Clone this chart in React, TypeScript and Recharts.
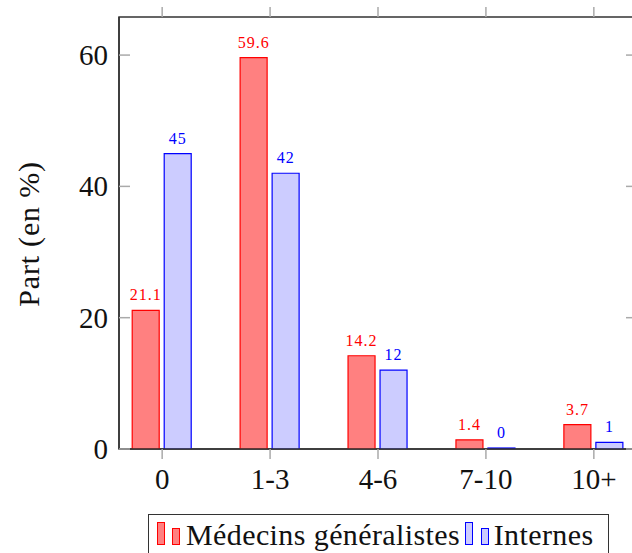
import React from 'react';
import { BarChart, Bar, XAxis, YAxis, LabelList, ReferenceArea } from 'recharts';

const CATEGORIES = ['0', '1-3', '4-6', '7-10', '10+'];
const MEDECINS = [21.1, 59.6, 14.2, 1.4, 3.7];
const INTERNES = [45, 42, 12, 0, 1];
const Y_TICKS = [0, 20, 40, 60];
const X_TICKS = [0, 1, 2, 3, 4];

const FONT = 'Liberation Serif, DejaVu Serif, serif';
const W = 680;
const H = 553;
const MARGIN = { top: 17, right: 43, left: 0, bottom: 64 };
const PLOT_TOP = MARGIN.top;
const PLOT_RIGHT = W - MARGIN.right;
const TICK_COLOR = '#aaaaaa';
const FRAME = '#333333';

const data = CATEGORIES.map((c, i) => ({ x: i, name: c, med: MEDECINS[i], int: INTERNES[i] }));

// bottom labels + outward ticks on top and bottom edges
const XTick = (props: any) => {
  const { x, y, payload } = props;
  const axisY = y - 20;
  return (
    <g>
      <line x1={x} x2={x} y1={axisY} y2={axisY + 10} stroke={TICK_COLOR} strokeWidth={1.5} />
      <line x1={x} x2={x} y1={PLOT_TOP} y2={PLOT_TOP - 10} stroke={TICK_COLOR} strokeWidth={1.5} />
      <text x={x} y={axisY + 40} textAnchor="middle" fontSize={29} fontFamily={FONT} fill="#111">
        {CATEGORIES[payload.value]}
      </text>
    </g>
  );
};

// left labels + inward ticks on left and right edges
const YTick = (props: any) => {
  const { x, y, payload } = props;
  const axisX = x + 11;
  return (
    <g>
      <line x1={axisX} x2={axisX + 11} y1={y} y2={y} stroke={TICK_COLOR} strokeWidth={1.5} />
      <line x1={PLOT_RIGHT - 11} x2={PLOT_RIGHT} y1={y} y2={y} stroke={TICK_COLOR} strokeWidth={1.5} />
      <text x={x} y={y + 10} textAnchor="end" fontSize={29} fontFamily={FONT} fill="#111">
        {payload.value}
      </text>
    </g>
  );
};

const YLabel = (props: any) => {
  const vb = props.viewBox || {};
  const cy = vb.y + vb.height / 2 + 1;
  return (
    <text
      x={28}
      y={cy}
      transform={`rotate(-90, 28, ${cy})`}
      textAnchor="middle"
      dominantBaseline="central"
      fontSize={30}
      letterSpacing={0.8}
      fontFamily={FONT}
      fill="#111"
    >
      Part (en %)
    </text>
  );
};

const Swatch = ({ fill, stroke, h, ml }: { fill: string; stroke: string; h: number; ml: number }) => (
  <span
    style={{
      display: 'inline-block',
      width: 8,
      height: h,
      background: fill,
      border: `1.5px solid ${stroke}`,
      boxSizing: 'border-box',
      marginLeft: ml,
      marginBottom: 1,
    }}
  />
);

export default function App() {
  return (
    <div style={{ position: 'fixed', left: 0, top: 0, width: 632, height: 553, overflow: 'hidden', background: '#fff' }}>
      <BarChart width={W} height={H} data={data} margin={MARGIN} barGap={5}>
        <XAxis
          dataKey="x"
          type="number"
          domain={[-0.4, 4.4]}
          ticks={X_TICKS}
          allowDataOverflow
          height={40}
          tickSize={10}
          tickMargin={10}
          tickLine={false}
          axisLine={{ stroke: FRAME, strokeWidth: 1.5 }}
          tick={<XTick />}
        />
        <YAxis
          type="number"
          domain={[0, 65.8]}
          ticks={Y_TICKS}
          allowDataOverflow
          width={119}
          tickSize={0}
          tickMargin={11}
          tickLine={false}
          axisLine={{ stroke: FRAME, strokeWidth: 1.5 }}
          tick={<YTick />}
          label={<YLabel />}
        />
        <ReferenceArea
          x1={-0.4}
          x2={4.4}
          y1={0}
          y2={65.8}
          fill="none"
          stroke={FRAME}
          strokeWidth={1.5}
          ifOverflow="visible"
        />
        <Bar dataKey="med" barSize={27} fill="#ff8080" stroke="#ff0000" strokeWidth={1.2} isAnimationActive={false}>
          <LabelList dataKey="med" position="top" offset={10} fill="#ff0000" fontSize={16} letterSpacing={1} fontFamily={FONT} />
        </Bar>
        <Bar dataKey="int" barSize={27} fill="#ccccff" stroke="#0000ff" strokeWidth={1.2} minPointSize={1} isAnimationActive={false}>
          <LabelList dataKey="int" position="top" offset={10} fill="#0000ff" fontSize={16} letterSpacing={1} fontFamily={FONT} />
        </Bar>
      </BarChart>
      <div
        style={{
          position: 'absolute',
          left: 148,
          top: 514,
          width: 461,
          height: 45,
          border: `1.5px solid ${FRAME}`,
          boxSizing: 'border-box',
          display: 'flex',
          alignItems: 'baseline',
          paddingTop: 5,
          fontFamily: FONT,
          fontSize: 30,
          letterSpacing: 0.4,
          lineHeight: 1,
          color: '#111',
          whiteSpace: 'nowrap',
        }}
      >
        <Swatch fill="#ff8080" stroke="#ff0000" h={23} ml={7.5} />
        <Swatch fill="#ff8080" stroke="#ff0000" h={17} ml={7.5} />
        <span style={{ marginLeft: 6 }}>Médecins généralistes</span>
        <Swatch fill="#ccccff" stroke="#0000ff" h={23} ml={5} />
        <Swatch fill="#ccccff" stroke="#0000ff" h={17} ml={7.5} />
        <span style={{ marginLeft: 5 }}>Internes</span>
      </div>
    </div>
  );
}
